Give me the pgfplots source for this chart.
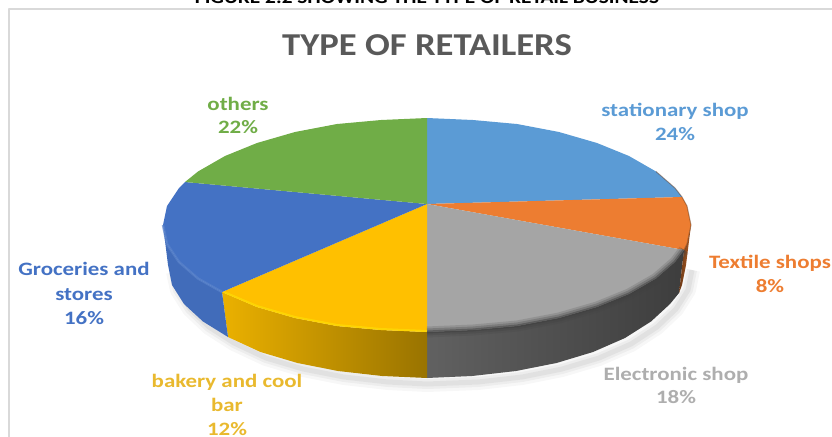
\documentclass[border=0pt]{standalone}
\usepackage{pgfplots}
\usepackage{pgfplotstable}
\usepackage{fontspec}
\pgfplotsset{compat=1.18}
\setmainfont{Carlito}
\definecolor{cblue}{HTML}{5B9BD5}
\definecolor{corange}{HTML}{ED7D31}
\definecolor{cgrey}{HTML}{A5A5A5}
\definecolor{cyellow}{HTML}{FFC000}
\definecolor{cdblue}{HTML}{4472C4}
\definecolor{cgreen}{HTML}{70AD47}
\definecolor{ctitle}{HTML}{595959}
\definecolor{lyellow}{HTML}{E9B92E}
\definecolor{lgrey}{HTML}{AEAEAE}
% Top faces of the slices, in drawing units; shares 24, 8, 18, 12, 16, 22
\pgfplotstableread{
x y
427 204
427 118
473 120
517 124
559 132
597 143
629 156
656 171.5
675 188
682 197
}\sliceStationary
\pgfplotstableread{
x y
427 204
682 197
687 206
691 225
687 244
684 250
}\sliceTextile
\pgfplotstableread{
x y
427 204
684 250
675 262
656 278.5
629 294
597 307
559 318
517 326
473 330
427 332
}\sliceElectronic
\pgfplotstableread{
x y
427 204
427 332
381 330
337 326
295 318
257 307
222 292
}\sliceBakery
\pgfplotstableread{
x y
427 204
222 292
198 278.5
179 262
167 244
163 225
167 206
179 188
185 182
}\sliceGroceries
\pgfplotstableread{
x y
427 204
185 182
198 171.5
225 156
257 143
295 132
337 124
381 120
427 118
}\sliceOthers
% Side walls of the disc
\pgfplotstableread{
x y
691 225
686 265
682 285
679 293
684 250
687 244
}\wallTextile
\pgfplotstableread{
x y
684 250
675 262
656 278.5
629 294
597 307
559 318
517 326
473 330
427 332
427 378
472 376
516 371
556.5 363
593 352
625 338
651 321.5
670 304
679 293
}\wallElectronic
\pgfplotstableread{
x y
427 332
381 330
337 326
295 318
257 307
222 292
228 337
260.5 352
297.5 363
338 371
382 376
427 378
}\wallBakery
\pgfplotstableread{
x y
222 292
198 278.5
179 262
167 244
163 225
168 265
172 285
184 304
203 321.5
228 337
}\wallGroceries
% Rim arcs used for the bevel along the front edge
\pgfplotstableread{
x y
684 250
675 262
656 278.5
629 294
597 307
559 318
517 326
473 330
427 332
}\rimElectronic
\pgfplotstableread{
x y
427 331
381 329
337 325
295 317
257 306
224 292
}\rimBakery
\pgfplotstableread{
x y
222 292
198 278.5
179 262
167 244
163 225
}\rimGroceries
\pgfplotstableread{
x y
656 171.5
675 188
682 197
687 206
691 225
687 244
684 250
}\rimRight
% Soft shadow beneath the disc
\pgfplotstableread{
x y
692 270
688 290
676 309
657 327
631 344
599 358
562 369
522 377
478 382
427 384
388 382
344 377
303 369
266 358
234 343
209 327
190 309
178 290
174 272
}\shadowArc
\begin{document}
\begin{tikzpicture}
\path[use as bounding box, clip] (0,0) rectangle (832bp,437bp);
\begin{axis}[
  anchor=south west, at={(0,0)},
  scale only axis, width=832bp, height=437bp,
  xmin=0, xmax=832, ymin=0, ymax=437, y dir=reverse,
  hide axis, clip=false,
  every axis plot/.append style={line join=round},
]
% panel frame
\addplot[draw=black!15, line width=2pt] coordinates {(9,437) (9,9) (832,9)};
% shadow
\addplot[draw=black, opacity=0.03, line width=16bp] table {\shadowArc};
\addplot[draw=black, opacity=0.04, line width=10bp] table {\shadowArc};
\addplot[draw=black, opacity=0.05, line width=5bp] table {\shadowArc};
% walls
\addplot[draw=none, left color=black!62, middle color=black!76, right color=black!76] table {\wallElectronic};
\addplot[draw=none, left color=black!55!corange, right color=black!25!corange] table {\wallTextile};
\addplot[draw=none, left color=black!8!cyellow, right color=black!40!cyellow] table {\wallBakery};
\addplot[draw=none, fill=black!5!cdblue] table {\wallGroceries};
% top faces
\addplot[draw=none, fill=cblue] table {\sliceStationary};
\addplot[draw=none, fill=corange] table {\sliceTextile};
\addplot[draw=none, fill=cgrey] table {\sliceElectronic};
\addplot[draw=none, fill=cyellow] table {\sliceBakery};
\addplot[draw=none, fill=cdblue] table {\sliceGroceries};
\addplot[draw=none, fill=cgreen] table {\sliceOthers};
% bevel along the front rim
\addplot[draw=black!75, opacity=0.18, line width=11bp] table {\rimElectronic};
\addplot[draw=black!75, opacity=0.28, line width=7bp] table {\rimElectronic};
\addplot[draw=black!75, opacity=0.5, line width=3bp] table {\rimElectronic};
\addplot[draw=yellow!55!cyellow, opacity=0.8, line width=2bp] table {\rimBakery};
\addplot[draw=cdblue!88!white, opacity=0.7, line width=2.5bp] table {\rimGroceries};
\addplot[draw=black!60!corange, opacity=0.45, line width=1bp] table {\rimRight};
% title texts and slice labels
\node[font=\bfseries\fontsize{18}{20}\selectfont, anchor=base] at (axis cs:427,4) {\scalebox{1.19}[1]{FIGURE 2.2 SHOWING THE TYPE OF RETAIL BUSINESS}};
\node[text=ctitle, font=\bfseries\fontsize{32}{36}\selectfont, anchor=base] at (axis cs:427,56) {\scalebox{1.15}[1]{TYPE OF RETAILERS}};
\def\lbl#1#2#3#4{\node[text=#3, font=\bfseries\fontsize{19}{24}\selectfont, anchor=base] at (axis cs:#1,#2) {\scalebox{1.21}[1]{#4}};}
\lbl{238}{110}{cgreen}{others}
\lbl{238}{133}{cgreen}{22\%}
\lbl{675}{116}{cblue}{stationary shop}
\lbl{675}{140}{cblue}{24\%}
\lbl{770}{268}{corange}{Textile shops}
\lbl{770}{292}{corange}{8\%}
\lbl{84}{275}{cdblue}{Groceries and}
\lbl{84}{300}{cdblue}{stores}
\lbl{84}{324}{cdblue}{16\%}
\lbl{227}{387}{lyellow}{bakery and cool}
\lbl{227}{411}{lyellow}{bar}
\lbl{227}{435}{lyellow}{12\%}
\lbl{676}{380}{lgrey}{Electronic shop}
\lbl{676}{403}{lgrey}{18\%}
\end{axis}
\end{tikzpicture}
\end{document}
